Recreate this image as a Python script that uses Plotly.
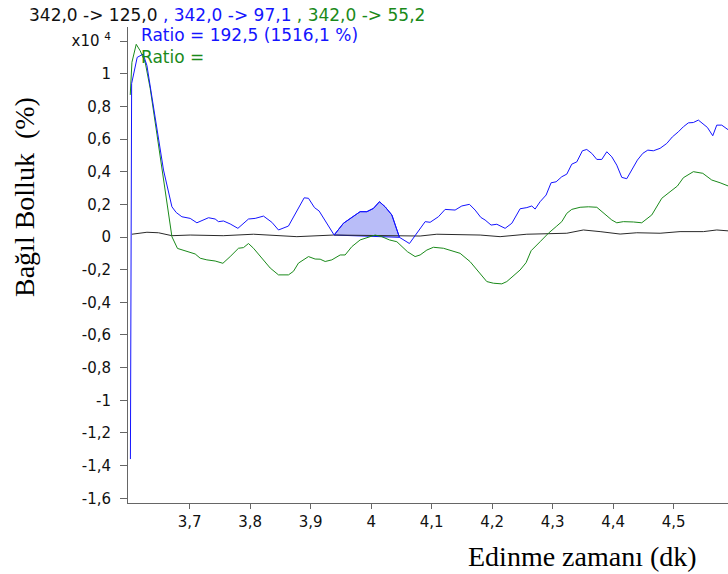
import plotly.graph_objects as go

# Retention time (min) and relative abundance (x10^4 %) for each transition trace
blue_t = [3.6020, 3.6040, 3.6132, 3.6231, 3.6293, 3.6458, 3.6567, 3.6706, 3.6777, 3.6871,
          3.7008, 3.7119, 3.7207, 3.7311, 3.7421, 3.7476, 3.7559, 3.7669, 3.7797, 3.7972,
          3.8083, 3.8220, 3.8359, 3.8468, 3.8633, 3.8772, 3.8893, 3.8964, 3.9063, 3.9140,
          3.9212, 3.9311, 3.9388, 3.9542, 3.9681, 3.9818, 3.9929, 4.0038, 4.0137, 4.0231,
          4.0342, 4.0468, 4.0633, 4.0798, 4.0893, 4.0975, 4.1112, 4.1223, 4.1388, 4.1499,
          4.1625, 4.1719, 4.1813, 4.1884, 4.1983, 4.2078, 4.2215, 4.2326, 4.2463, 4.2574,
          4.2656, 4.2711, 4.2793, 4.2893, 4.2975, 4.3058, 4.3152, 4.3235, 4.3317, 4.3400,
          4.3493, 4.3565, 4.3648, 4.3731, 4.3813, 4.3896, 4.3979, 4.4061, 4.4144, 4.4226,
          4.4309, 4.4402, 4.4491, 4.4574, 4.4666, 4.4777, 4.4888, 4.4980, 4.5079, 4.5162,
          4.5245, 4.5327, 4.5410, 4.5483, 4.5559, 4.5648, 4.5714, 4.5797, 4.5920]
blue_v = [-1.36, 0.94, 1.10, 1.12, 1.05, 0.65, 0.41, 0.185, 0.15, 0.124,
          0.114, 0.087, 0.10, 0.118, 0.11, 0.094, 0.098, 0.08, 0.053, 0.11,
          0.114, 0.128, 0.09, 0.043, 0.067, 0.155, 0.24, 0.237, 0.18, 0.159,
          0.114, 0.057, 0.012, 0.084, 0.12, 0.155, 0.155, 0.175, 0.216, 0.185,
          0.135, -0.002, -0.04, 0.047, 0.094, 0.09, 0.124, 0.169, 0.165, 0.19,
          0.20, 0.165, 0.12, 0.104, 0.073, 0.078, 0.053, 0.084, 0.173, 0.18,
          0.19, 0.171, 0.216, 0.257, 0.332, 0.338, 0.369, 0.385, 0.446, 0.46,
          0.528, 0.536, 0.512, 0.475, 0.475, 0.522, 0.491, 0.44, 0.365, 0.357,
          0.414, 0.471, 0.512, 0.532, 0.528, 0.543, 0.573, 0.613, 0.644, 0.675,
          0.699, 0.701, 0.716, 0.691, 0.671, 0.62, 0.685, 0.685, 0.652]

green_t = [3.6017, 3.6045, 3.6116, 3.6182, 3.6264, 3.6347, 3.6458, 3.6579, 3.6706, 3.6798,
           3.6954, 3.7091, 3.7174, 3.7284, 3.7421, 3.7549, 3.7669, 3.7807, 3.7889, 3.7972,
           3.8055, 3.8193, 3.8331, 3.8468, 3.8633, 3.8716, 3.8798, 3.8964, 3.9074, 3.9157,
           3.9240, 3.9350, 3.9405, 3.9488, 3.9570, 3.9681, 3.9818, 3.9955, 4.0066, 4.0177,
           4.0302, 4.0425, 4.0507, 4.0600, 4.0727, 4.0810, 4.0921, 4.1030, 4.1195, 4.1334,
           4.1471, 4.1636, 4.1774, 4.1912, 4.2021, 4.2160, 4.2243, 4.2352, 4.2463, 4.2562,
           4.2645, 4.2793, 4.2931, 4.3069, 4.3152, 4.3235, 4.3317, 4.3455, 4.3592, 4.3731,
           4.3868, 4.3979, 4.4061, 4.4170, 4.4336, 4.4474, 4.4640, 4.4805, 4.4942, 4.5063,
           4.5162, 4.5327, 4.5483, 4.5631, 4.5769, 4.5920]
green_v = [0.87, 1.07, 1.18, 1.14, 1.07, 0.91, 0.63, 0.33, 0.002, -0.07,
           -0.09, -0.104, -0.13, -0.14, -0.147, -0.161, -0.12, -0.069, -0.065, -0.04,
           -0.069, -0.13, -0.19, -0.232, -0.232, -0.21, -0.16, -0.12, -0.135, -0.136,
           -0.15, -0.14, -0.13, -0.11, -0.11, -0.059, -0.018, -0.004, 0.012, 0.002,
           -0.018, -0.029, -0.059, -0.09, -0.12, -0.11, -0.08, -0.063, -0.069, -0.084,
           -0.10, -0.151, -0.212, -0.273, -0.283, -0.287, -0.273, -0.237, -0.202, -0.157,
           -0.084, -0.029, 0.023, 0.067, 0.094, 0.145, 0.169, 0.182, 0.185, 0.182,
           0.141, 0.104, 0.087, 0.094, 0.092, 0.087, 0.135, 0.237, 0.277, 0.312,
           0.363, 0.40, 0.39, 0.349, 0.332, 0.31]

black_t = [3.6045, 3.6293, 3.6484, 3.6706, 3.7008, 3.7554, 3.8055, 3.8331, 3.8772, 3.9377,
           4.0094, 4.0534, 4.0810, 4.1086, 4.1802, 4.2132, 4.2574, 4.3235, 4.3509, 4.3785,
           4.4116, 4.4392, 4.4777, 4.5107, 4.5493, 4.5714, 4.5920]
black_v = [0.017, 0.029, 0.026, 0.008, 0.012, 0.008, 0.017, 0.010, 0.002, 0.012,
           0.008, 0.006, 0.006, 0.017, 0.012, 0.002, 0.017, 0.023, 0.043, 0.033,
           0.018, 0.026, 0.023, 0.033, 0.033, 0.043, 0.037]

# Integrated peak window on the blue trace (start/end retention times)
peak_start, peak_end = 3.9388, 4.0468

x_ticks = [3.7, 3.8, 3.9, 4.0, 4.1, 4.2, 4.3, 4.4, 4.5]
x_labels = ["3,7", "3,8", "3,9", "4", "4,1", "4,2", "4,3", "4,4", "4,5"]
y_ticks = [-1.6, -1.4, -1.2, -1.0, -0.8, -0.6, -0.4, -0.2, 0.0, 0.2, 0.4, 0.6, 0.8, 1.0, 1.2]
y_labels = ["-1,6", "-1,4", "-1,2", "-1", "-0,8", "-0,6", "-0,4", "-0,2", "0",
            "0,2", "0,4", "0,6", "0,8", "1", "x10 <sup>4</sup>"]

BLUE = "#1414ff"
GREEN = "#1a8a1a"
BLACK = "#2a2a2a"
FILL = "#b9bdf8"
SANS = "DejaVu Sans"
SERIF = "Liberation Serif"

i0 = blue_t.index(peak_start)
i1 = blue_t.index(peak_end)
fill_t = blue_t[i0:i1 + 1] + [blue_t[i0]]
fill_v = blue_v[i0:i1 + 1] + [blue_v[i0]]

fig = go.Figure()
fig.add_trace(go.Scatter(x=fill_t, y=fill_v, mode="lines", fill="toself",
                         fillcolor=FILL, line=dict(color=BLUE, width=1),
                         hoverinfo="skip", showlegend=False))
fig.add_trace(go.Scatter(x=black_t, y=black_v, mode="lines",
                         line=dict(color=BLACK, width=1), showlegend=False))
fig.add_trace(go.Scatter(x=green_t, y=green_v, mode="lines",
                         line=dict(color=GREEN, width=1), showlegend=False))
fig.add_trace(go.Scatter(x=blue_t, y=blue_v, mode="lines",
                         line=dict(color=BLUE, width=1), showlegend=False))

L, R, T, B = 128, 0, 27, 71
W, H = 728, 574
pw, ph = W - L - R, H - T - B


def px(xp):
    return (xp - L) / pw


def py(yp):
    return (H - B - yp) / ph


annotations = [
    dict(x=px(27), y=py(15), xanchor="left", yanchor="middle",
         text=("<span style='color:#111111'>342,0 -&gt; 125,0</span>"
               f"<span style='color:{BLUE}'> , 342,0 -&gt; 97,1</span>"
               f"<span style='color:{GREEN}'> , 342,0 -&gt; 55,2</span>"),
         font=dict(family=SANS, size=17)),
    dict(x=px(139), y=py(46), xanchor="left", yanchor="middle", align="left",
         text=(f"<span style='color:{BLUE}'>Ratio = 192,5 (1516,1 %)</span><br>"
               f"<span style='color:{GREEN}'>Ratio =</span>"),
         font=dict(family=SANS, size=17)),
    dict(x=px(25), y=py(197), xanchor="center", yanchor="middle", textangle=-90,
         text="Bağıl Bolluk  (%)", font=dict(family=SERIF, size=28, color="#000000")),
    dict(x=px(582), y=py(556), xanchor="center", yanchor="middle",
         text="Edinme zamanı (dk)", font=dict(family=SERIF, size=28, color="#000000")),
]
for a in annotations:
    a.update(xref="paper", yref="paper", showarrow=False)

fig.update_layout(
    width=W, height=H,
    margin=dict(l=L, r=R, t=T, b=B, pad=0),
    paper_bgcolor="white", plot_bgcolor="white",
    showlegend=False,
    annotations=annotations,
    xaxis=dict(range=[3.598, 4.590], tickvals=x_ticks, ticktext=x_labels,
               showgrid=False, zeroline=False, showline=True, linecolor="#666666",
               linewidth=1, ticks="outside", ticklen=5, tickcolor="#666666",
               tickfont=dict(family=SANS, size=15, color="#111111")),
    yaxis=dict(range=[-1.629, 1.286], tickvals=y_ticks, ticktext=y_labels,
               showgrid=False, zeroline=False, showline=True, linecolor="#666666",
               linewidth=1, ticks="outside", ticklen=7, tickcolor="#666666",
               ticklabelstandoff=6,
               tickfont=dict(family=SANS, size=15, color="#111111")),
)

fig.write_html("out.html")
